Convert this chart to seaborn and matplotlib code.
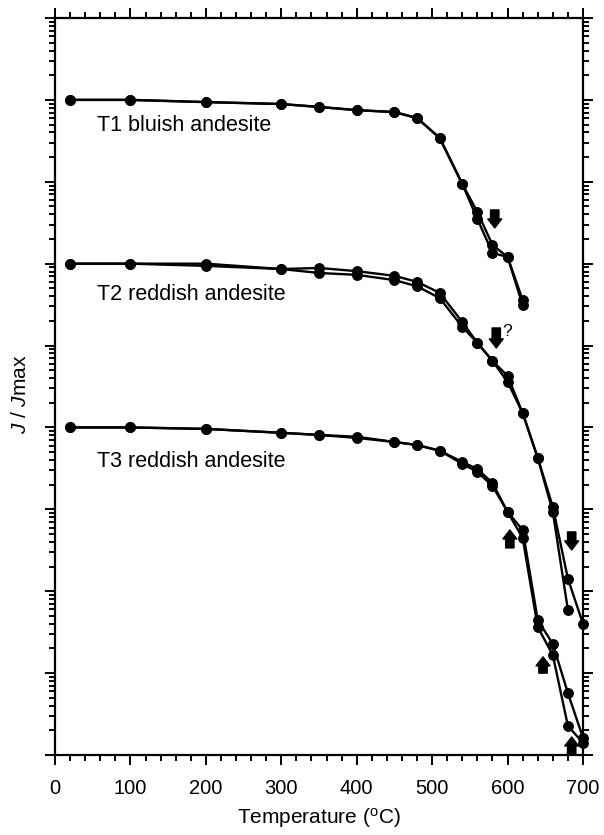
import numpy as np
import pandas as pd
import seaborn as sns
import matplotlib
matplotlib.use("Agg")
import matplotlib.pyplot as plt
from matplotlib.ticker import LogLocator, NullFormatter, MultipleLocator

# ---- data ----
temps = [20, 100, 200, 300, 350, 400, 450, 480, 510, 540, 560, 580, 600, 620, 640, 660, 680, 700]

t1_a = [1.00, 1.00, 0.94, 0.89, 0.82, 0.75, 0.71, 0.60, 0.343, 0.094, 0.0428, 0.0169, 0.0121, 0.0036]
t1_b = [1.00, 1.00, 0.94, 0.89, 0.82, 0.75, 0.71, 0.60, 0.343, 0.094, 0.0351, 0.0135, 0.0121, 0.0031]

t2_a = [1.00, 1.00, 1.00, 0.86, 0.886, 0.81, 0.71, 0.60, 0.44, 0.194, 0.108, 0.0649, 0.0426, 0.0150,
        0.00425, 0.00107, 1.42e-4, 4.0e-5]
t2_b = [1.00, 1.00, 0.94, 0.86, 0.77, 0.73, 0.63, 0.53, 0.38, 0.169, 0.108, 0.0649, 0.0360, 0.0150,
        0.00425, 0.00093, 5.9e-5]

t3_a = [1.00, 1.00, 0.96, 0.86, 0.81, 0.77, 0.665, 0.61, 0.52, 0.38, 0.31, 0.21, 0.093, 0.056,
        0.00445, 0.00227, 5.7e-4, 1.62e-4]
t3_b = [1.00, 1.00, 0.96, 0.86, 0.81, 0.745, 0.665, 0.61, 0.52, 0.36, 0.286, 0.193, 0.093, 0.0448,
        0.00365, 0.00166, 2.26e-4, 1.41e-4]

sample_names = ["T1 bluish andesite", "T2 reddish andesite", "T3 reddish andesite"]
sample_shift = [1.0, 1e-2, 1e-4]   # vertical offset of each sample on the log axis

curves = [("T1", "a", t1_a, 0), ("T1", "b", t1_b, 0),
          ("T2", "a", t2_a, 1), ("T2", "b", t2_b, 1),
          ("T3", "a", t3_a, 2), ("T3", "b", t3_b, 2)]

rows = []
for s, run, vals, k in curves:
    for t, v in zip(temps, vals):
        rows.append({"T": t, "J": v * sample_shift[k], "curve": s + run})
df = pd.DataFrame(rows)

# ---- style ----
sns.set_style("ticks")
plt.rcParams["font.family"] = ["Liberation Sans", "DejaVu Sans"]
plt.rcParams["mathtext.fontset"] = "custom"
plt.rcParams["mathtext.rm"] = "Liberation Sans"
plt.rcParams["mathtext.it"] = "Liberation Sans:italic"
plt.rcParams["text.color"] = "black"
plt.rcParams["axes.labelcolor"] = "black"
plt.rcParams["xtick.color"] = "black"
plt.rcParams["ytick.color"] = "black"
plt.rcParams["xtick.labelcolor"] = "black"

fig = plt.figure(figsize=(6.04, 8.35), dpi=100)
ax = fig.add_axes([55 / 604, 1 - 755 / 835, (583 - 55) / 604, (755 - 18) / 835])

sns.lineplot(data=df, x="T", y="J", units="curve", estimator=None, sort=False,
             color="black", linewidth=1.7, marker="o", markersize=7,
             markeredgecolor="black", markeredgewidth=0.8, ax=ax, legend=False,
             clip_on=False)

ax.set_yscale("log")
ax.set_xlim(0, 700)
ax.set_ylim(1e-8, 10)

ax.xaxis.set_major_locator(MultipleLocator(100))
ax.xaxis.set_minor_locator(MultipleLocator(20))
ax.yaxis.set_major_locator(LogLocator(base=10, numticks=30))
ax.yaxis.set_minor_locator(LogLocator(base=10, subs=np.arange(2, 10), numticks=30))
ax.yaxis.set_major_formatter(NullFormatter())
ax.yaxis.set_minor_formatter(NullFormatter())

ax.tick_params(which="both", direction="out", top=True, right=True, width=1.4,
               color="black", labelcolor="black")
ax.tick_params(which="major", length=7, labelsize=14.5, pad=10)
ax.tick_params(which="minor", length=4.5)
for sp in ax.spines.values():
    sp.set_linewidth(1.6)
    sp.set_color("black")

ax.set_xlabel(r"Temperature ($^{\rm o}$C)", fontsize=15, labelpad=6, color="black")
ax.set_ylabel(r"$J$ / $J$max", fontsize=15, color="black")
ax.yaxis.set_label_coords(-0.048, 0.49)

# sample labels
label_y = [0.48, 4.15e-3, 3.8e-5]
for name, y in zip(sample_names, label_y):
    ax.text(56, y, name, fontsize=15.5, ha="left", va="center", color="black")

# arrows
arrow_kw = dict(arrowstyle="simple,head_length=6.5,head_width=10,tail_width=6",
                fc="black", ec="black", mutation_scale=1, shrinkA=0, shrinkB=0)
arrows = [  # (T, tail, tip)
    (583, 0.0453, 0.0273),
    (585, 1.64e-3, 9.35e-4),
    (685, 5.3e-6, 3.19e-6),
    (603, 3.38e-6, 5.6e-6),
    (647, 1.0e-7, 1.58e-7),
    (685, 1.0e-8, 1.66e-8),
]
for t, tail, tip in arrows:
    ax.annotate("", xy=(t, tip), xytext=(t, tail), arrowprops=arrow_kw, annotation_clip=False)
ax.text(600, 1.5e-3, "?", fontsize=12.5, ha="center", va="center", color="black")

fig.savefig("out.png", dpi=100)
